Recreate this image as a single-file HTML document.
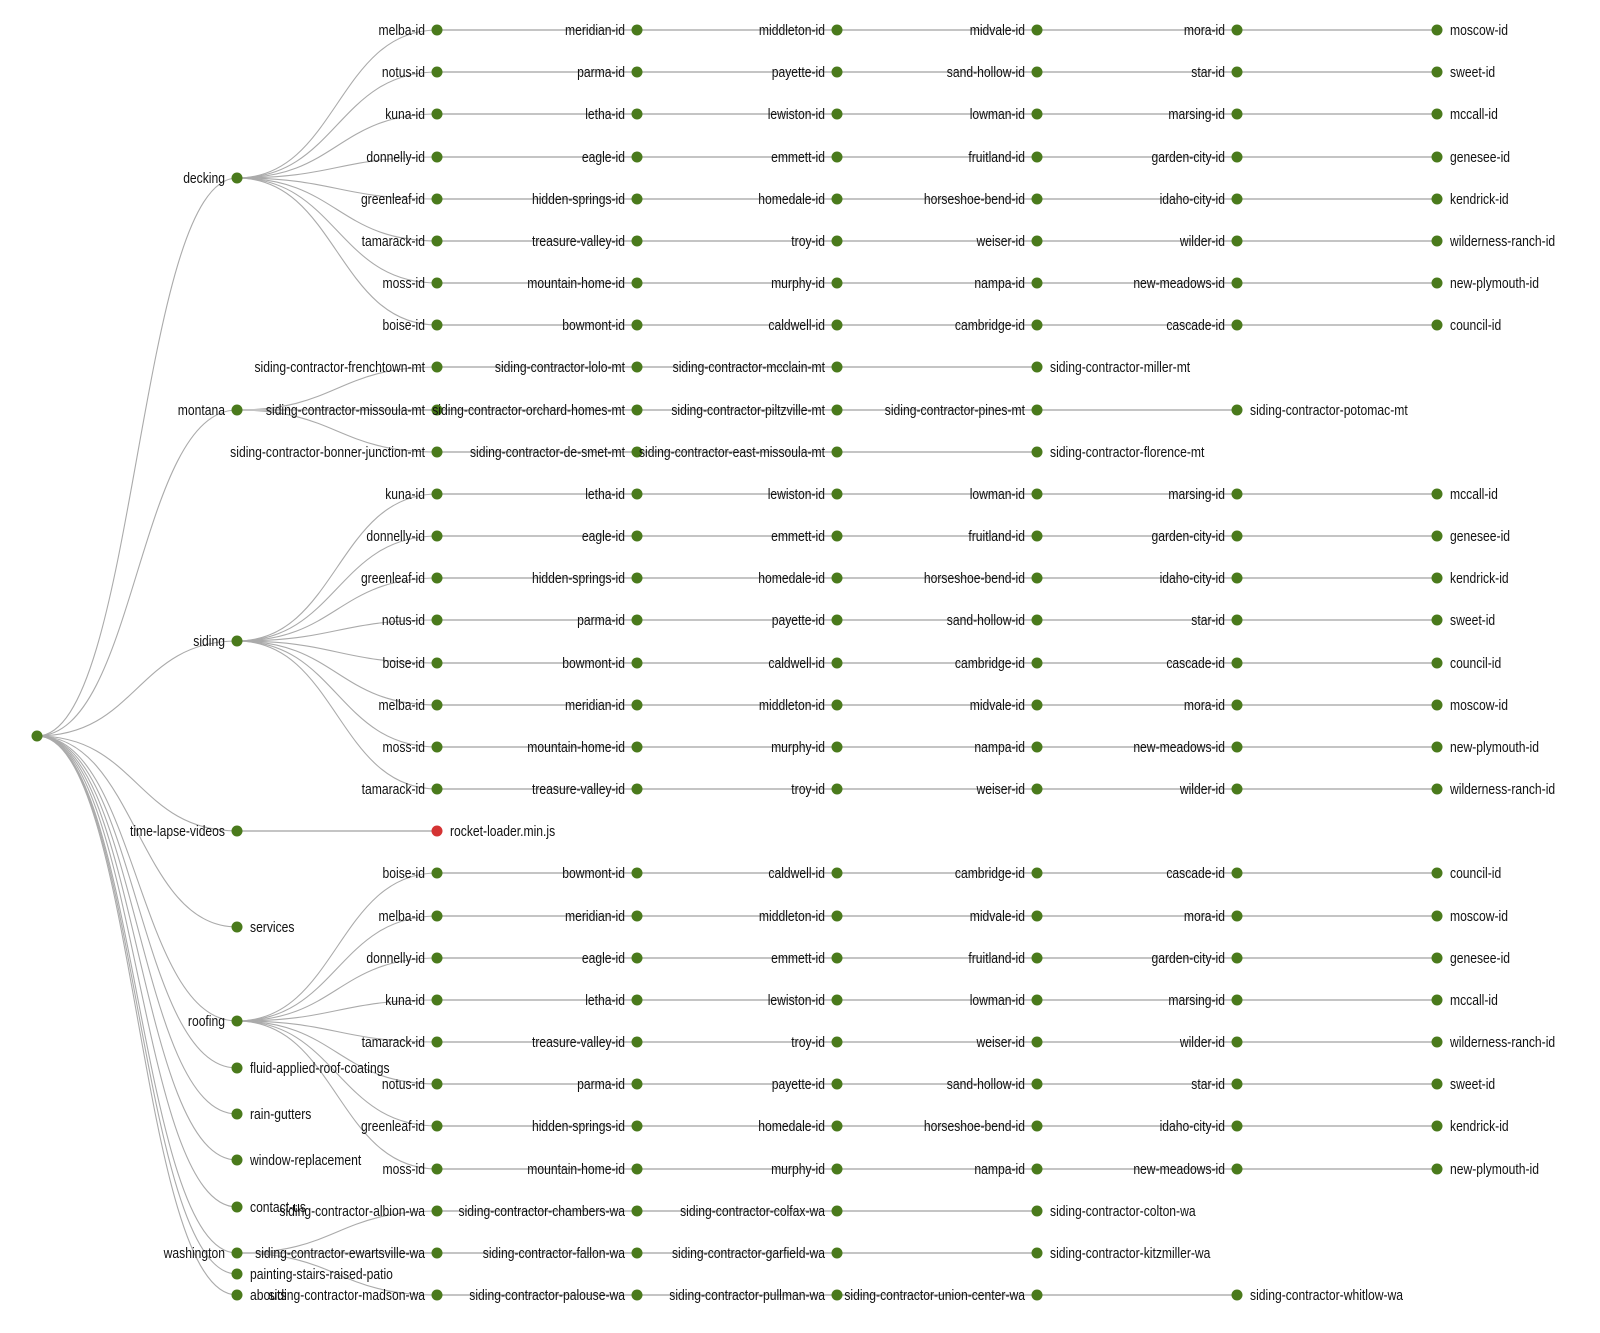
<!DOCTYPE html>
<html><head><meta charset="utf-8"><style>
html,body{margin:0;padding:0;background:#fff}
svg{display:block}
text{font-family:"Liberation Sans",Arial,sans-serif;font-size:15px;fill:#111}
.e{text-anchor:end}
path{fill:none;stroke:#aaa;stroke-width:1.1}
line{stroke:#c4c4c4;stroke-width:2}
circle{fill:#4a7a1c}
</style></head><body>
<svg width="1600" height="1333" viewBox="0 0 1600 1333">
<path d="M37,736C137,736 137,178 237,178"/>
<path d="M37,736C137,736 137,410 237,410"/>
<path d="M37,736C137,736 137,641 237,641"/>
<path d="M37,736C137,736 137,831 237,831"/>
<path d="M37,736C137,736 137,927 237,927"/>
<path d="M37,736C137,736 137,1021 237,1021"/>
<path d="M37,736C137,736 137,1068 237,1068"/>
<path d="M37,736C137,736 137,1114 237,1114"/>
<path d="M37,736C137,736 137,1160 237,1160"/>
<path d="M37,736C137,736 137,1207 237,1207"/>
<path d="M37,736C137,736 137,1253 237,1253"/>
<path d="M37,736C137,736 137,1274 237,1274"/>
<path d="M37,736C137,736 137,1295 237,1295"/>
<path d="M237,178C337,178 337,30 437,30"/><path d="M237,178C337,178 337,72 437,72"/><path d="M237,178C337,178 337,114 437,114"/><path d="M237,178C337,178 337,157 437,157"/><path d="M237,178C337,178 337,199 437,199"/><path d="M237,178C337,178 337,241 437,241"/><path d="M237,178C337,178 337,283 437,283"/><path d="M237,178C337,178 337,325 437,325"/>
<path d="M237,410C337,410 337,367 437,367"/><path d="M237,410C337,410 337,410 437,410"/><path d="M237,410C337,410 337,452 437,452"/>
<path d="M237,641C337,641 337,494 437,494"/><path d="M237,641C337,641 337,536 437,536"/><path d="M237,641C337,641 337,578 437,578"/><path d="M237,641C337,641 337,620 437,620"/><path d="M237,641C337,641 337,663 437,663"/><path d="M237,641C337,641 337,705 437,705"/><path d="M237,641C337,641 337,747 437,747"/><path d="M237,641C337,641 337,789 437,789"/>
<path d="M237,1021C337,1021 337,873 437,873"/><path d="M237,1021C337,1021 337,916 437,916"/><path d="M237,1021C337,1021 337,958 437,958"/><path d="M237,1021C337,1021 337,1000 437,1000"/><path d="M237,1021C337,1021 337,1042 437,1042"/><path d="M237,1021C337,1021 337,1084 437,1084"/><path d="M237,1021C337,1021 337,1126 437,1126"/><path d="M237,1021C337,1021 337,1169 437,1169"/>
<path d="M237,1253C337,1253 337,1211 437,1211"/><path d="M237,1253C337,1253 337,1253 437,1253"/><path d="M237,1253C337,1253 337,1295 437,1295"/>
<line x1="437" y1="30" x2="1437" y2="30"/><line x1="437" y1="72" x2="1437" y2="72"/><line x1="437" y1="114" x2="1437" y2="114"/><line x1="437" y1="157" x2="1437" y2="157"/><line x1="437" y1="199" x2="1437" y2="199"/><line x1="437" y1="241" x2="1437" y2="241"/><line x1="437" y1="283" x2="1437" y2="283"/><line x1="437" y1="325" x2="1437" y2="325"/>
<line x1="437" y1="367" x2="1037" y2="367"/><line x1="237" y1="410" x2="1237" y2="410"/><line x1="437" y1="452" x2="1037" y2="452"/>
<line x1="437" y1="494" x2="1437" y2="494"/><line x1="437" y1="536" x2="1437" y2="536"/><line x1="437" y1="578" x2="1437" y2="578"/><line x1="437" y1="620" x2="1437" y2="620"/><line x1="437" y1="663" x2="1437" y2="663"/><line x1="437" y1="705" x2="1437" y2="705"/><line x1="437" y1="747" x2="1437" y2="747"/><line x1="437" y1="789" x2="1437" y2="789"/>
<line x1="237" y1="831" x2="437" y2="831"/>
<line x1="437" y1="873" x2="1437" y2="873"/><line x1="437" y1="916" x2="1437" y2="916"/><line x1="437" y1="958" x2="1437" y2="958"/><line x1="437" y1="1000" x2="1437" y2="1000"/><line x1="437" y1="1042" x2="1437" y2="1042"/><line x1="437" y1="1084" x2="1437" y2="1084"/><line x1="437" y1="1126" x2="1437" y2="1126"/><line x1="437" y1="1169" x2="1437" y2="1169"/>
<line x1="437" y1="1211" x2="1037" y2="1211"/><line x1="237" y1="1253" x2="1037" y2="1253"/><line x1="437" y1="1295" x2="1237" y2="1295"/>
<g>
<circle cx="37" cy="736" r="5.5"/>
<circle cx="237" cy="178" r="5.5"/><circle cx="237" cy="410" r="5.5"/><circle cx="237" cy="641" r="5.5"/><circle cx="237" cy="831" r="5.5"/><circle cx="237" cy="927" r="5.5"/><circle cx="237" cy="1021" r="5.5"/><circle cx="237" cy="1068" r="5.5"/><circle cx="237" cy="1114" r="5.5"/><circle cx="237" cy="1160" r="5.5"/><circle cx="237" cy="1207" r="5.5"/><circle cx="237" cy="1253" r="5.5"/><circle cx="237" cy="1274" r="5.5"/><circle cx="237" cy="1295" r="5.5"/>
</g>
<g>
<g transform="translate(0,30)"><circle cx="437" r="5.5"/><circle cx="637" r="5.5"/><circle cx="837" r="5.5"/><circle cx="1037" r="5.5"/><circle cx="1237" r="5.5"/><circle cx="1437" r="5.5"/></g>
<g transform="translate(0,72)"><circle cx="437" r="5.5"/><circle cx="637" r="5.5"/><circle cx="837" r="5.5"/><circle cx="1037" r="5.5"/><circle cx="1237" r="5.5"/><circle cx="1437" r="5.5"/></g>
<g transform="translate(0,114)"><circle cx="437" r="5.5"/><circle cx="637" r="5.5"/><circle cx="837" r="5.5"/><circle cx="1037" r="5.5"/><circle cx="1237" r="5.5"/><circle cx="1437" r="5.5"/></g>
<g transform="translate(0,157)"><circle cx="437" r="5.5"/><circle cx="637" r="5.5"/><circle cx="837" r="5.5"/><circle cx="1037" r="5.5"/><circle cx="1237" r="5.5"/><circle cx="1437" r="5.5"/></g>
<g transform="translate(0,199)"><circle cx="437" r="5.5"/><circle cx="637" r="5.5"/><circle cx="837" r="5.5"/><circle cx="1037" r="5.5"/><circle cx="1237" r="5.5"/><circle cx="1437" r="5.5"/></g>
<g transform="translate(0,241)"><circle cx="437" r="5.5"/><circle cx="637" r="5.5"/><circle cx="837" r="5.5"/><circle cx="1037" r="5.5"/><circle cx="1237" r="5.5"/><circle cx="1437" r="5.5"/></g>
<g transform="translate(0,283)"><circle cx="437" r="5.5"/><circle cx="637" r="5.5"/><circle cx="837" r="5.5"/><circle cx="1037" r="5.5"/><circle cx="1237" r="5.5"/><circle cx="1437" r="5.5"/></g>
<g transform="translate(0,325)"><circle cx="437" r="5.5"/><circle cx="637" r="5.5"/><circle cx="837" r="5.5"/><circle cx="1037" r="5.5"/><circle cx="1237" r="5.5"/><circle cx="1437" r="5.5"/></g>
<g transform="translate(0,494)"><circle cx="437" r="5.5"/><circle cx="637" r="5.5"/><circle cx="837" r="5.5"/><circle cx="1037" r="5.5"/><circle cx="1237" r="5.5"/><circle cx="1437" r="5.5"/></g>
<g transform="translate(0,536)"><circle cx="437" r="5.5"/><circle cx="637" r="5.5"/><circle cx="837" r="5.5"/><circle cx="1037" r="5.5"/><circle cx="1237" r="5.5"/><circle cx="1437" r="5.5"/></g>
<g transform="translate(0,578)"><circle cx="437" r="5.5"/><circle cx="637" r="5.5"/><circle cx="837" r="5.5"/><circle cx="1037" r="5.5"/><circle cx="1237" r="5.5"/><circle cx="1437" r="5.5"/></g>
<g transform="translate(0,620)"><circle cx="437" r="5.5"/><circle cx="637" r="5.5"/><circle cx="837" r="5.5"/><circle cx="1037" r="5.5"/><circle cx="1237" r="5.5"/><circle cx="1437" r="5.5"/></g>
<g transform="translate(0,663)"><circle cx="437" r="5.5"/><circle cx="637" r="5.5"/><circle cx="837" r="5.5"/><circle cx="1037" r="5.5"/><circle cx="1237" r="5.5"/><circle cx="1437" r="5.5"/></g>
<g transform="translate(0,705)"><circle cx="437" r="5.5"/><circle cx="637" r="5.5"/><circle cx="837" r="5.5"/><circle cx="1037" r="5.5"/><circle cx="1237" r="5.5"/><circle cx="1437" r="5.5"/></g>
<g transform="translate(0,747)"><circle cx="437" r="5.5"/><circle cx="637" r="5.5"/><circle cx="837" r="5.5"/><circle cx="1037" r="5.5"/><circle cx="1237" r="5.5"/><circle cx="1437" r="5.5"/></g>
<g transform="translate(0,789)"><circle cx="437" r="5.5"/><circle cx="637" r="5.5"/><circle cx="837" r="5.5"/><circle cx="1037" r="5.5"/><circle cx="1237" r="5.5"/><circle cx="1437" r="5.5"/></g>
<g transform="translate(0,873)"><circle cx="437" r="5.5"/><circle cx="637" r="5.5"/><circle cx="837" r="5.5"/><circle cx="1037" r="5.5"/><circle cx="1237" r="5.5"/><circle cx="1437" r="5.5"/></g>
<g transform="translate(0,916)"><circle cx="437" r="5.5"/><circle cx="637" r="5.5"/><circle cx="837" r="5.5"/><circle cx="1037" r="5.5"/><circle cx="1237" r="5.5"/><circle cx="1437" r="5.5"/></g>
<g transform="translate(0,958)"><circle cx="437" r="5.5"/><circle cx="637" r="5.5"/><circle cx="837" r="5.5"/><circle cx="1037" r="5.5"/><circle cx="1237" r="5.5"/><circle cx="1437" r="5.5"/></g>
<g transform="translate(0,1000)"><circle cx="437" r="5.5"/><circle cx="637" r="5.5"/><circle cx="837" r="5.5"/><circle cx="1037" r="5.5"/><circle cx="1237" r="5.5"/><circle cx="1437" r="5.5"/></g>
<g transform="translate(0,1042)"><circle cx="437" r="5.5"/><circle cx="637" r="5.5"/><circle cx="837" r="5.5"/><circle cx="1037" r="5.5"/><circle cx="1237" r="5.5"/><circle cx="1437" r="5.5"/></g>
<g transform="translate(0,1084)"><circle cx="437" r="5.5"/><circle cx="637" r="5.5"/><circle cx="837" r="5.5"/><circle cx="1037" r="5.5"/><circle cx="1237" r="5.5"/><circle cx="1437" r="5.5"/></g>
<g transform="translate(0,1126)"><circle cx="437" r="5.5"/><circle cx="637" r="5.5"/><circle cx="837" r="5.5"/><circle cx="1037" r="5.5"/><circle cx="1237" r="5.5"/><circle cx="1437" r="5.5"/></g>
<g transform="translate(0,1169)"><circle cx="437" r="5.5"/><circle cx="637" r="5.5"/><circle cx="837" r="5.5"/><circle cx="1037" r="5.5"/><circle cx="1237" r="5.5"/><circle cx="1437" r="5.5"/></g>
<g transform="translate(0,367)"><circle cx="437" r="5.5"/><circle cx="637" r="5.5"/><circle cx="837" r="5.5"/><circle cx="1037" r="5.5"/></g>
<g transform="translate(0,410)"><circle cx="437" r="5.5"/><circle cx="637" r="5.5"/><circle cx="837" r="5.5"/><circle cx="1037" r="5.5"/><circle cx="1237" r="5.5"/></g>
<g transform="translate(0,452)"><circle cx="437" r="5.5"/><circle cx="637" r="5.5"/><circle cx="837" r="5.5"/><circle cx="1037" r="5.5"/></g>
<g transform="translate(0,1211)"><circle cx="437" r="5.5"/><circle cx="637" r="5.5"/><circle cx="837" r="5.5"/><circle cx="1037" r="5.5"/></g>
<g transform="translate(0,1253)"><circle cx="437" r="5.5"/><circle cx="637" r="5.5"/><circle cx="837" r="5.5"/><circle cx="1037" r="5.5"/></g>
<g transform="translate(0,1295)"><circle cx="437" r="5.5"/><circle cx="637" r="5.5"/><circle cx="837" r="5.5"/><circle cx="1037" r="5.5"/><circle cx="1237" r="5.5"/></g>
<circle cx="437" cy="831" r="5.5" style="fill:#d43333"/>
</g>

<text class="e" transform="translate(225,183) scale(.81,1)">decking</text>
<text class="e" transform="translate(225,415) scale(.81,1)">montana</text>
<text class="e" transform="translate(225,646) scale(.81,1)">siding</text>
<text class="e" transform="translate(225,836) scale(.81,1)">time-lapse-videos</text>
<text transform="translate(250,932) scale(.81,1)">services</text>
<text class="e" transform="translate(225,1026) scale(.81,1)">roofing</text>
<text transform="translate(250,1073) scale(.81,1)">fluid-applied-roof-coatings</text>
<text transform="translate(250,1119) scale(.81,1)">rain-gutters</text>
<text transform="translate(250,1165) scale(.81,1)">window-replacement</text>
<text transform="translate(250,1212) scale(.81,1)">contact-us</text>
<text class="e" transform="translate(225,1258) scale(.81,1)">washington</text>
<text transform="translate(250,1279) scale(.81,1)">painting-stairs-raised-patio</text>
<text transform="translate(250,1300) scale(.81,1)">abouts</text>
<text transform="translate(450,836) scale(.81,1)">rocket-loader.min.js</text>

<g transform="translate(0,35)"><text class="e" transform="translate(425,0) scale(.81,1)">melba-id</text><text class="e" transform="translate(625,0) scale(.81,1)">meridian-id</text><text class="e" transform="translate(825,0) scale(.81,1)">middleton-id</text><text class="e" transform="translate(1025,0) scale(.81,1)">midvale-id</text><text class="e" transform="translate(1225,0) scale(.81,1)">mora-id</text><text transform="translate(1450,0) scale(.81,1)">moscow-id</text></g>
<g transform="translate(0,77)"><text class="e" transform="translate(425,0) scale(.81,1)">notus-id</text><text class="e" transform="translate(625,0) scale(.81,1)">parma-id</text><text class="e" transform="translate(825,0) scale(.81,1)">payette-id</text><text class="e" transform="translate(1025,0) scale(.81,1)">sand-hollow-id</text><text class="e" transform="translate(1225,0) scale(.81,1)">star-id</text><text transform="translate(1450,0) scale(.81,1)">sweet-id</text></g>
<g transform="translate(0,119)"><text class="e" transform="translate(425,0) scale(.81,1)">kuna-id</text><text class="e" transform="translate(625,0) scale(.81,1)">letha-id</text><text class="e" transform="translate(825,0) scale(.81,1)">lewiston-id</text><text class="e" transform="translate(1025,0) scale(.81,1)">lowman-id</text><text class="e" transform="translate(1225,0) scale(.81,1)">marsing-id</text><text transform="translate(1450,0) scale(.81,1)">mccall-id</text></g>
<g transform="translate(0,162)"><text class="e" transform="translate(425,0) scale(.81,1)">donnelly-id</text><text class="e" transform="translate(625,0) scale(.81,1)">eagle-id</text><text class="e" transform="translate(825,0) scale(.81,1)">emmett-id</text><text class="e" transform="translate(1025,0) scale(.81,1)">fruitland-id</text><text class="e" transform="translate(1225,0) scale(.81,1)">garden-city-id</text><text transform="translate(1450,0) scale(.81,1)">genesee-id</text></g>
<g transform="translate(0,204)"><text class="e" transform="translate(425,0) scale(.81,1)">greenleaf-id</text><text class="e" transform="translate(625,0) scale(.81,1)">hidden-springs-id</text><text class="e" transform="translate(825,0) scale(.81,1)">homedale-id</text><text class="e" transform="translate(1025,0) scale(.81,1)">horseshoe-bend-id</text><text class="e" transform="translate(1225,0) scale(.81,1)">idaho-city-id</text><text transform="translate(1450,0) scale(.81,1)">kendrick-id</text></g>
<g transform="translate(0,246)"><text class="e" transform="translate(425,0) scale(.81,1)">tamarack-id</text><text class="e" transform="translate(625,0) scale(.81,1)">treasure-valley-id</text><text class="e" transform="translate(825,0) scale(.81,1)">troy-id</text><text class="e" transform="translate(1025,0) scale(.81,1)">weiser-id</text><text class="e" transform="translate(1225,0) scale(.81,1)">wilder-id</text><text transform="translate(1450,0) scale(.81,1)">wilderness-ranch-id</text></g>
<g transform="translate(0,288)"><text class="e" transform="translate(425,0) scale(.81,1)">moss-id</text><text class="e" transform="translate(625,0) scale(.81,1)">mountain-home-id</text><text class="e" transform="translate(825,0) scale(.81,1)">murphy-id</text><text class="e" transform="translate(1025,0) scale(.81,1)">nampa-id</text><text class="e" transform="translate(1225,0) scale(.81,1)">new-meadows-id</text><text transform="translate(1450,0) scale(.81,1)">new-plymouth-id</text></g>
<g transform="translate(0,330)"><text class="e" transform="translate(425,0) scale(.81,1)">boise-id</text><text class="e" transform="translate(625,0) scale(.81,1)">bowmont-id</text><text class="e" transform="translate(825,0) scale(.81,1)">caldwell-id</text><text class="e" transform="translate(1025,0) scale(.81,1)">cambridge-id</text><text class="e" transform="translate(1225,0) scale(.81,1)">cascade-id</text><text transform="translate(1450,0) scale(.81,1)">council-id</text></g>

<g transform="translate(0,372)"><text class="e" transform="translate(425,0) scale(.81,1)">siding-contractor-frenchtown-mt</text><text class="e" transform="translate(625,0) scale(.81,1)">siding-contractor-lolo-mt</text><text class="e" transform="translate(825,0) scale(.81,1)">siding-contractor-mcclain-mt</text><text transform="translate(1050,0) scale(.81,1)">siding-contractor-miller-mt</text></g>
<g transform="translate(0,415)"><text class="e" transform="translate(425,0) scale(.81,1)">siding-contractor-missoula-mt</text><text class="e" transform="translate(625,0) scale(.81,1)">siding-contractor-orchard-homes-mt</text><text class="e" transform="translate(825,0) scale(.81,1)">siding-contractor-piltzville-mt</text><text class="e" transform="translate(1025,0) scale(.81,1)">siding-contractor-pines-mt</text><text transform="translate(1250,0) scale(.81,1)">siding-contractor-potomac-mt</text></g>
<g transform="translate(0,457)"><text class="e" transform="translate(425,0) scale(.81,1)">siding-contractor-bonner-junction-mt</text><text class="e" transform="translate(625,0) scale(.81,1)">siding-contractor-de-smet-mt</text><text class="e" transform="translate(825,0) scale(.81,1)">siding-contractor-east-missoula-mt</text><text transform="translate(1050,0) scale(.81,1)">siding-contractor-florence-mt</text></g>

<g transform="translate(0,499)"><text class="e" transform="translate(425,0) scale(.81,1)">kuna-id</text><text class="e" transform="translate(625,0) scale(.81,1)">letha-id</text><text class="e" transform="translate(825,0) scale(.81,1)">lewiston-id</text><text class="e" transform="translate(1025,0) scale(.81,1)">lowman-id</text><text class="e" transform="translate(1225,0) scale(.81,1)">marsing-id</text><text transform="translate(1450,0) scale(.81,1)">mccall-id</text></g>
<g transform="translate(0,541)"><text class="e" transform="translate(425,0) scale(.81,1)">donnelly-id</text><text class="e" transform="translate(625,0) scale(.81,1)">eagle-id</text><text class="e" transform="translate(825,0) scale(.81,1)">emmett-id</text><text class="e" transform="translate(1025,0) scale(.81,1)">fruitland-id</text><text class="e" transform="translate(1225,0) scale(.81,1)">garden-city-id</text><text transform="translate(1450,0) scale(.81,1)">genesee-id</text></g>
<g transform="translate(0,583)"><text class="e" transform="translate(425,0) scale(.81,1)">greenleaf-id</text><text class="e" transform="translate(625,0) scale(.81,1)">hidden-springs-id</text><text class="e" transform="translate(825,0) scale(.81,1)">homedale-id</text><text class="e" transform="translate(1025,0) scale(.81,1)">horseshoe-bend-id</text><text class="e" transform="translate(1225,0) scale(.81,1)">idaho-city-id</text><text transform="translate(1450,0) scale(.81,1)">kendrick-id</text></g>
<g transform="translate(0,625)"><text class="e" transform="translate(425,0) scale(.81,1)">notus-id</text><text class="e" transform="translate(625,0) scale(.81,1)">parma-id</text><text class="e" transform="translate(825,0) scale(.81,1)">payette-id</text><text class="e" transform="translate(1025,0) scale(.81,1)">sand-hollow-id</text><text class="e" transform="translate(1225,0) scale(.81,1)">star-id</text><text transform="translate(1450,0) scale(.81,1)">sweet-id</text></g>
<g transform="translate(0,668)"><text class="e" transform="translate(425,0) scale(.81,1)">boise-id</text><text class="e" transform="translate(625,0) scale(.81,1)">bowmont-id</text><text class="e" transform="translate(825,0) scale(.81,1)">caldwell-id</text><text class="e" transform="translate(1025,0) scale(.81,1)">cambridge-id</text><text class="e" transform="translate(1225,0) scale(.81,1)">cascade-id</text><text transform="translate(1450,0) scale(.81,1)">council-id</text></g>
<g transform="translate(0,710)"><text class="e" transform="translate(425,0) scale(.81,1)">melba-id</text><text class="e" transform="translate(625,0) scale(.81,1)">meridian-id</text><text class="e" transform="translate(825,0) scale(.81,1)">middleton-id</text><text class="e" transform="translate(1025,0) scale(.81,1)">midvale-id</text><text class="e" transform="translate(1225,0) scale(.81,1)">mora-id</text><text transform="translate(1450,0) scale(.81,1)">moscow-id</text></g>
<g transform="translate(0,752)"><text class="e" transform="translate(425,0) scale(.81,1)">moss-id</text><text class="e" transform="translate(625,0) scale(.81,1)">mountain-home-id</text><text class="e" transform="translate(825,0) scale(.81,1)">murphy-id</text><text class="e" transform="translate(1025,0) scale(.81,1)">nampa-id</text><text class="e" transform="translate(1225,0) scale(.81,1)">new-meadows-id</text><text transform="translate(1450,0) scale(.81,1)">new-plymouth-id</text></g>
<g transform="translate(0,794)"><text class="e" transform="translate(425,0) scale(.81,1)">tamarack-id</text><text class="e" transform="translate(625,0) scale(.81,1)">treasure-valley-id</text><text class="e" transform="translate(825,0) scale(.81,1)">troy-id</text><text class="e" transform="translate(1025,0) scale(.81,1)">weiser-id</text><text class="e" transform="translate(1225,0) scale(.81,1)">wilder-id</text><text transform="translate(1450,0) scale(.81,1)">wilderness-ranch-id</text></g>

<g transform="translate(0,878)"><text class="e" transform="translate(425,0) scale(.81,1)">boise-id</text><text class="e" transform="translate(625,0) scale(.81,1)">bowmont-id</text><text class="e" transform="translate(825,0) scale(.81,1)">caldwell-id</text><text class="e" transform="translate(1025,0) scale(.81,1)">cambridge-id</text><text class="e" transform="translate(1225,0) scale(.81,1)">cascade-id</text><text transform="translate(1450,0) scale(.81,1)">council-id</text></g>
<g transform="translate(0,921)"><text class="e" transform="translate(425,0) scale(.81,1)">melba-id</text><text class="e" transform="translate(625,0) scale(.81,1)">meridian-id</text><text class="e" transform="translate(825,0) scale(.81,1)">middleton-id</text><text class="e" transform="translate(1025,0) scale(.81,1)">midvale-id</text><text class="e" transform="translate(1225,0) scale(.81,1)">mora-id</text><text transform="translate(1450,0) scale(.81,1)">moscow-id</text></g>
<g transform="translate(0,963)"><text class="e" transform="translate(425,0) scale(.81,1)">donnelly-id</text><text class="e" transform="translate(625,0) scale(.81,1)">eagle-id</text><text class="e" transform="translate(825,0) scale(.81,1)">emmett-id</text><text class="e" transform="translate(1025,0) scale(.81,1)">fruitland-id</text><text class="e" transform="translate(1225,0) scale(.81,1)">garden-city-id</text><text transform="translate(1450,0) scale(.81,1)">genesee-id</text></g>
<g transform="translate(0,1005)"><text class="e" transform="translate(425,0) scale(.81,1)">kuna-id</text><text class="e" transform="translate(625,0) scale(.81,1)">letha-id</text><text class="e" transform="translate(825,0) scale(.81,1)">lewiston-id</text><text class="e" transform="translate(1025,0) scale(.81,1)">lowman-id</text><text class="e" transform="translate(1225,0) scale(.81,1)">marsing-id</text><text transform="translate(1450,0) scale(.81,1)">mccall-id</text></g>
<g transform="translate(0,1047)"><text class="e" transform="translate(425,0) scale(.81,1)">tamarack-id</text><text class="e" transform="translate(625,0) scale(.81,1)">treasure-valley-id</text><text class="e" transform="translate(825,0) scale(.81,1)">troy-id</text><text class="e" transform="translate(1025,0) scale(.81,1)">weiser-id</text><text class="e" transform="translate(1225,0) scale(.81,1)">wilder-id</text><text transform="translate(1450,0) scale(.81,1)">wilderness-ranch-id</text></g>
<g transform="translate(0,1089)"><text class="e" transform="translate(425,0) scale(.81,1)">notus-id</text><text class="e" transform="translate(625,0) scale(.81,1)">parma-id</text><text class="e" transform="translate(825,0) scale(.81,1)">payette-id</text><text class="e" transform="translate(1025,0) scale(.81,1)">sand-hollow-id</text><text class="e" transform="translate(1225,0) scale(.81,1)">star-id</text><text transform="translate(1450,0) scale(.81,1)">sweet-id</text></g>
<g transform="translate(0,1131)"><text class="e" transform="translate(425,0) scale(.81,1)">greenleaf-id</text><text class="e" transform="translate(625,0) scale(.81,1)">hidden-springs-id</text><text class="e" transform="translate(825,0) scale(.81,1)">homedale-id</text><text class="e" transform="translate(1025,0) scale(.81,1)">horseshoe-bend-id</text><text class="e" transform="translate(1225,0) scale(.81,1)">idaho-city-id</text><text transform="translate(1450,0) scale(.81,1)">kendrick-id</text></g>
<g transform="translate(0,1174)"><text class="e" transform="translate(425,0) scale(.81,1)">moss-id</text><text class="e" transform="translate(625,0) scale(.81,1)">mountain-home-id</text><text class="e" transform="translate(825,0) scale(.81,1)">murphy-id</text><text class="e" transform="translate(1025,0) scale(.81,1)">nampa-id</text><text class="e" transform="translate(1225,0) scale(.81,1)">new-meadows-id</text><text transform="translate(1450,0) scale(.81,1)">new-plymouth-id</text></g>

<g transform="translate(0,1216)"><text class="e" transform="translate(425,0) scale(.81,1)">siding-contractor-albion-wa</text><text class="e" transform="translate(625,0) scale(.81,1)">siding-contractor-chambers-wa</text><text class="e" transform="translate(825,0) scale(.81,1)">siding-contractor-colfax-wa</text><text transform="translate(1050,0) scale(.81,1)">siding-contractor-colton-wa</text></g>
<g transform="translate(0,1258)"><text class="e" transform="translate(425,0) scale(.81,1)">siding-contractor-ewartsville-wa</text><text class="e" transform="translate(625,0) scale(.81,1)">siding-contractor-fallon-wa</text><text class="e" transform="translate(825,0) scale(.81,1)">siding-contractor-garfield-wa</text><text transform="translate(1050,0) scale(.81,1)">siding-contractor-kitzmiller-wa</text></g>
<g transform="translate(0,1300)"><text class="e" transform="translate(425,0) scale(.81,1)">siding-contractor-madson-wa</text><text class="e" transform="translate(625,0) scale(.81,1)">siding-contractor-palouse-wa</text><text class="e" transform="translate(825,0) scale(.81,1)">siding-contractor-pullman-wa</text><text class="e" transform="translate(1025,0) scale(.81,1)">siding-contractor-union-center-wa</text><text transform="translate(1250,0) scale(.81,1)">siding-contractor-whitlow-wa</text></g>
</svg>
</body></html>
